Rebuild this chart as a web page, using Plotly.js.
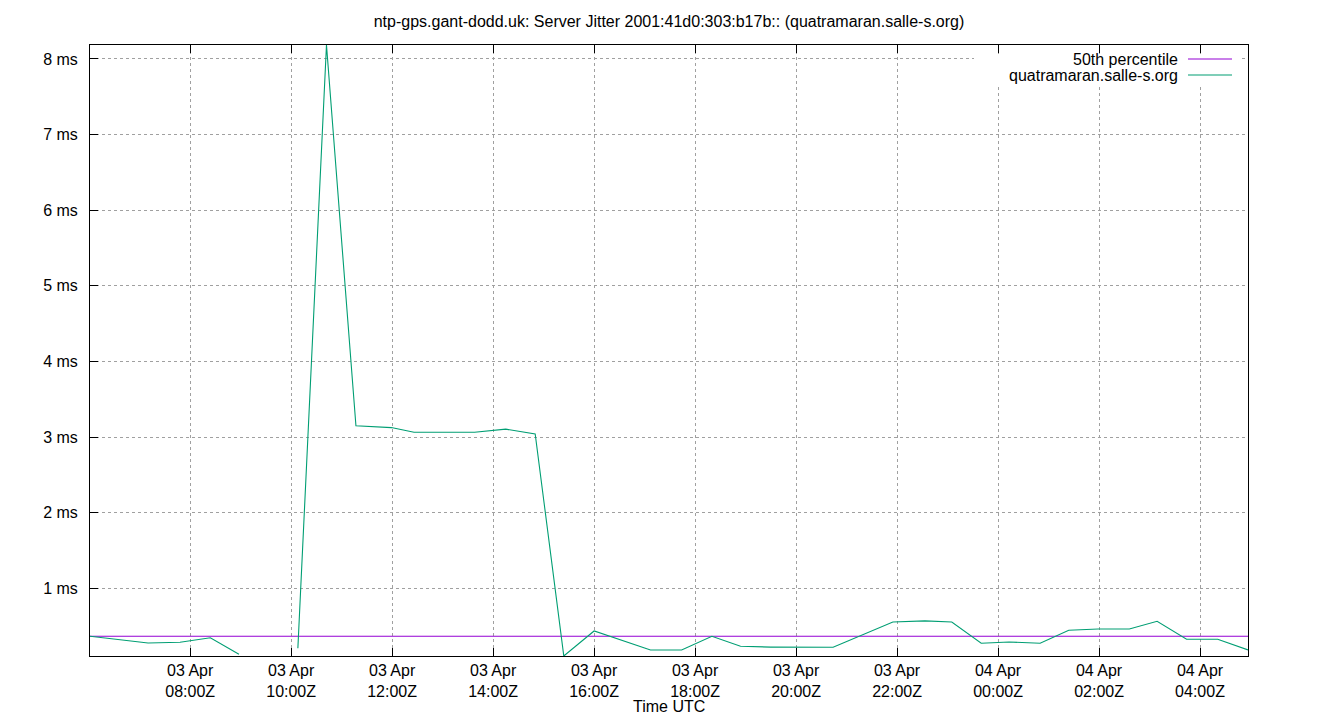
<!DOCTYPE html>
<html>
<head>
<meta charset="utf-8">
<script src="https://cdn.plot.ly/plotly-3.0.1.min.js"></script>
<style>
  html, body { margin: 0; padding: 0; background: #fff; }
  #chart { width: 1340px; height: 720px; }
</style>
</head>
<body>
<div id="chart"></div>
<script>
'use strict';

// sample times (UTC) and jitter in ms; null = missing sample
const times = [
	'2024-04-03 06:01', '2024-04-03 07:10', '2024-04-03 07:48', '2024-04-03 08:24',
	'2024-04-03 08:58', '2024-04-03 09:30', '2024-04-03 10:08', '2024-04-03 10:42',
	'2024-04-03 11:17', '2024-04-03 11:59', '2024-04-03 12:26', '2024-04-03 13:03',
	'2024-04-03 13:38', '2024-04-03 14:15', '2024-04-03 14:50', '2024-04-03 15:24',
	'2024-04-03 16:00', '2024-04-03 17:07', '2024-04-03 17:44', '2024-04-03 18:20',
	'2024-04-03 18:54', '2024-04-03 19:30', '2024-04-03 20:07', '2024-04-03 20:44',
	'2024-04-03 21:55', '2024-04-03 22:33', '2024-04-03 23:05', '2024-04-03 23:40',
	'2024-04-04 00:13', '2024-04-04 00:50', '2024-04-04 01:24', '2024-04-04 01:59',
	'2024-04-04 02:36', '2024-04-04 03:09', '2024-04-04 03:44', '2024-04-04 04:21',
	'2024-04-04 04:57'
];
const jitter = [
	0.365, 0.276, 0.285, 0.346,
	0.127, null, 0.206, 8.185,
	3.148, 3.125, 3.064, 3.064,
	3.064, 3.104, 3.042, 0.104,
	0.435, 0.184, 0.184, 0.365,
	0.232, 0.222, 0.220, 0.219,
	0.554, 0.568, 0.554, 0.272,
	0.289, 0.272, 0.444, 0.461,
	0.461, 0.563, 0.325, 0.325,
	0.184
];
const p50 = 0.365;

const tickTimes = [
	'2024-04-03 08:00', '2024-04-03 10:00', '2024-04-03 12:00', '2024-04-03 14:00',
	'2024-04-03 16:00', '2024-04-03 18:00', '2024-04-03 20:00', '2024-04-03 22:00',
	'2024-04-04 00:00', '2024-04-04 02:00', '2024-04-04 04:00'
];
const tickText = [
	'03 Apr<br>08:00Z', '03 Apr<br>10:00Z', '03 Apr<br>12:00Z', '03 Apr<br>14:00Z',
	'03 Apr<br>16:00Z', '03 Apr<br>18:00Z', '03 Apr<br>20:00Z', '03 Apr<br>22:00Z',
	'04 Apr<br>00:00Z', '04 Apr<br>02:00Z', '04 Apr<br>04:00Z'
];
const yTicks = [1, 2, 3, 4, 5, 6, 7, 8];
const yTickText = ['1 ms', '2 ms', '3 ms', '4 ms', '5 ms', '6 ms', '7 ms', '8 ms'];

const seriesName = 'quatramaran.salle-s.org';
const pctName = '50th percentile';
const green = '#009e73';
const purple = '#9400d3';
const font = 'Liberation Sans, Arial, sans-serif';
const fsize = 16;

const numbers = jitter.filter(function(v) { return v !== null; });
const yMin = Math.min.apply(null, numbers);
const yMax = Math.max.apply(null, numbers);
const xRange = [times[0], times[times.length - 1]];

const traces = [
	{
		x: xRange,
		y: [p50, p50],
		type: 'scatter',
		mode: 'lines',
		name: pctName,
		line: {color: purple, width: 1.1},
		hoverinfo: 'skip'
	},
	{
		x: times,
		y: jitter,
		type: 'scatter',
		mode: 'lines',
		name: seriesName,
		connectgaps: false,
		line: {color: green, width: 1.1}
	}
];

const axisCommon = {
	showline: true,
	linecolor: '#000',
	linewidth: 1,
	ticks: 'inside',
	ticklen: 8,
	tickcolor: '#000',
	tickwidth: 1,
	showgrid: true,
	gridcolor: '#a0a0a0',
	griddash: 'dot',
	gridwidth: 1,
	zeroline: false,
	tickfont: {family: font, size: fsize, color: '#000'}
};

// legend drawn by hand: gnuplot puts the sample line to the right of the text
const legendRows = [
	{text: pctName, color: purple, y: 59},
	{text: seriesName, color: green, y: 75}
];
const shapes = [{
	type: 'rect', xref: 'paper', yref: 'paper', layer: 'above',
	x0: (974 - 90) / 1158, x1: (1240 - 90) / 1158,
	y0: (656 - 84) / 611, y1: (656 - 54) / 611,
	fillcolor: '#fff', line: {width: 0}
}];
const annotations = [];
legendRows.forEach(function(row) {
	const yp = (656 - row.y) / 611;
	shapes.push({
		type: 'line', xref: 'paper', yref: 'paper', layer: 'above',
		x0: (1188 - 90) / 1158, x1: (1232 - 90) / 1158, y0: yp, y1: yp,
		line: {color: row.color, width: 1.1}
	});
	annotations.push({
		xref: 'paper', yref: 'paper',
		x: (1180 - 90) / 1158, y: yp,
		xanchor: 'right', yanchor: 'middle',
		text: row.text, showarrow: false,
		font: {family: font, size: fsize, color: '#000'}
	});
});
annotations.push({
	xref: 'paper', yref: 'paper', x: 0.5, y: -(706 - 656) / 611,
	xanchor: 'center', yanchor: 'middle', showarrow: false,
	text: 'Time UTC', font: {family: font, size: fsize, color: '#000'}
});

const layout = {
	width: 1340,
	height: 720,
	margin: {l: 90, r: 92, t: 45, b: 64},
	paper_bgcolor: '#fff',
	plot_bgcolor: '#fff',
	showlegend: false,
	title: {
		text: 'ntp-gps.gant-dodd.uk: Server Jitter 2001:41d0:303:b17b:: (quatramaran.salle-s.org)',
		font: {family: font, size: fsize, color: '#000'},
		x: 0.5, xref: 'paper', xanchor: 'center',
		y: 1 - 21 / 720, yref: 'container', yanchor: 'middle'
	},
	// time axis has ticks on top too, value axis only on the left
	xaxis: Object.assign({}, axisCommon, {
		type: 'date',
		mirror: 'allticks',
		range: xRange,
		tickmode: 'array',
		tickvals: tickTimes,
		ticktext: tickText
	}),
	yaxis: Object.assign({}, axisCommon, {
		mirror: true,
		range: [yMin, yMax],
		tickmode: 'array',
		tickvals: yTicks,
		ticktext: yTickText,
		ticklabelstandoff: 8
	}),
	shapes: shapes,
	annotations: annotations
};

Plotly.newPlot('chart', traces, layout, {displayModeBar: false, staticPlot: true});
</script>
</body>
</html>
